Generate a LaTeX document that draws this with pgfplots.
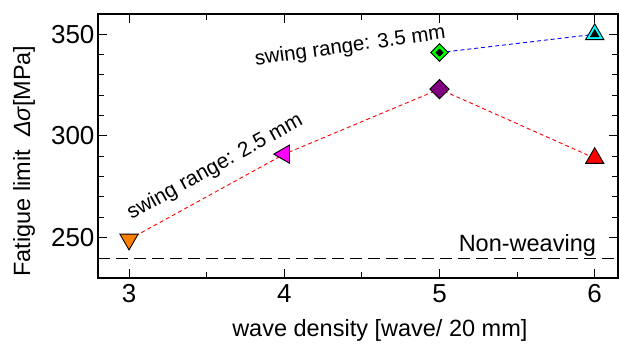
\documentclass[border=0pt]{standalone}
\usepackage{fontspec}
\setmainfont{Liberation Sans}
\usepackage{pgfplots}
\pgfplotsset{compat=1.18}
\definecolor{cOrange}{RGB}{255,128,0}
\definecolor{cMagenta}{RGB}{255,0,255}
\definecolor{cPurple}{RGB}{128,0,128}
\definecolor{cRed}{RGB}{255,0,0}
\definecolor{cGreen}{RGB}{0,255,0}
\definecolor{cCyan}{RGB}{0,255,255}
\definecolor{cBlue}{RGB}{0,0,255}
\begin{document}
\begin{tikzpicture}
\begin{axis}[
  at={(98pt,67pt)}, anchor=south west,
  scale only axis, width=520pt, height=264pt,
  xmin=2.8, xmax=6.15, ymin=230, ymax=360,
  xtick={3,4,5,6}, ytick={250,300,350},
  minor x tick num=1, minor y tick num=4,
  tick align=inside, tick pos=both,
  major tick length=9pt, minor tick length=6pt,
  axis line style={line width=1.2pt},
  every tick/.style={line width=1pt, black},
  /pgf/number format/assume math mode=true,
  ticklabel style={font=\fontsize{26}{26}\selectfont},
  xticklabel style={yshift=-3pt},
  xlabel={wave density [wave/ 20 mm]},
  ylabel={Fatigue limit\ \ {\itshape Δσ}[MPa]},
  every axis x label/.style={at={(rel axis cs:0.542,0)}, yshift=-52pt, anchor=center, font=\fontsize{23.5}{24}\selectfont},
  every axis y label/.style={at={(rel axis cs:0,0.443)}, xshift=-74pt, anchor=center, rotate=90, font=\fontsize{23.5}{24}\selectfont},
  clip=false,
]
% Non-weaving reference line
\addplot[black, line width=1pt, dash pattern=on 12pt off 6pt] coordinates {(2.8,239.5) (6.15,239.5)};
% swing range 2.5 mm
\addplot[cRed, line width=0.9pt, dash pattern=on 4pt off 3pt] coordinates {(3,249) (4,291) (5,323) (6,289)};
% swing range 3.5 mm
\addplot[cBlue, line width=0.9pt, dash pattern=on 4pt off 3pt] coordinates {(5,341) (6,350)};
% markers
\addplot[only marks, mark=triangle*, mark size=10.5pt, mark options={fill=cOrange, draw=black, line width=0.9pt, rotate=180}] coordinates {(3,249)};
\addplot[only marks, mark=triangle*, mark size=10.5pt, mark options={fill=cMagenta, draw=black, line width=0.9pt, rotate=90}] coordinates {(4,291)};
\addplot[only marks, mark=square*, mark size=6.8pt, mark options={fill=cPurple, draw=black, line width=0.9pt, rotate=45}] coordinates {(5,323)};
\addplot[only marks, mark=triangle*, mark size=10.5pt, mark options={fill=cRed, draw=black, line width=0.9pt}] coordinates {(6,289)};
\addplot[only marks, mark=square*, mark size=6.2pt, mark options={fill=cGreen, draw=black, line width=0.9pt, rotate=45}] coordinates {(5,341)};
\addplot[only marks, mark=square*, mark size=2.6pt, mark options={fill=black, draw=black, rotate=45}] coordinates {(5,341)};
\addplot[only marks, mark=triangle*, mark size=10.5pt, mark options={fill=cCyan, draw=black, line width=0.9pt}] coordinates {(6,350)};
\addplot[only marks, mark=triangle*, mark size=5pt, mark options={fill=black, draw=black}] coordinates {(6,350)};
% text labels
\node[rotate=29, font=\fontsize{21}{21}\selectfont] at (axis cs:3.555,284.5) {swing range: 2.5 mm};
\node[rotate=8, font=\fontsize{20.5}{21}\selectfont] at (axis cs:4.425,343.9) {swing range: 3.5 mm};
\node[anchor=base, font=\fontsize{23.5}{24}\selectfont] at (axis cs:5.566,243.1) {Non-weaving};
\end{axis}
\pgfresetboundingbox
\path[use as bounding box] (0,0) rectangle (619pt,345pt);
\end{tikzpicture}
\end{document}
